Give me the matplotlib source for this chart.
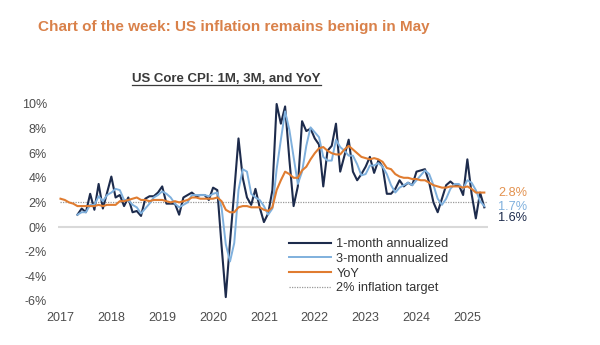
import matplotlib
matplotlib.use("Agg")
import matplotlib.pyplot as plt
import numpy as np
from matplotlib.lines import Line2D

plt.rcParams['font.family'] = ['Liberation Sans', 'DejaVu Sans']

# monthly data, Jan 2017 - May 2025 (annualized %)
one_month = [
    np.nan, np.nan, np.nan, np.nan, 1.0, 1.5, 1.2, 2.7, 1.4, 3.5, 1.5, 2.8,   # 2017
    4.1, 2.4, 2.6, 1.7, 2.4, 1.2, 1.3, 0.9, 2.3, 2.5, 2.5, 2.8,               # 2018
    3.3, 1.9, 1.9, 1.9, 1.0, 2.4, 2.6, 2.8, 2.5, 2.6, 2.6, 2.2,               # 2019
    3.2, 3.0, -1.5, -5.7, -1.2, 2.9, 7.2, 4.0, 2.4, 1.8, 3.1, 1.6,            # 2020
    0.4, 1.1, 3.0, 10.0, 8.4, 9.8, 5.5, 1.7, 3.3, 8.6, 7.8, 8.0,              # 2021
    7.2, 6.7, 3.3, 6.2, 6.6, 8.4, 4.5, 5.8, 7.1, 4.5, 3.8, 4.3,               # 2022
    4.9, 5.7, 4.4, 5.4, 4.9, 2.7, 2.7, 3.1, 3.8, 3.3, 3.6, 3.4,               # 2023
    4.5, 4.6, 4.7, 3.6, 2.0, 1.2, 2.3, 3.4, 3.7, 3.4, 3.4, 2.6,               # 2024
    5.5, 2.7, 0.7, 2.8, 1.6,                                                  # 2025
]
three_month = [
    np.nan, np.nan, np.nan, np.nan, 1.0, 1.2, 1.2, 1.8, 1.8, 2.5, 2.1, 2.6,
    2.8, 3.1, 3.0, 2.2, 2.2, 1.8, 1.6, 1.1, 1.5, 1.9, 2.4, 2.6,
    2.9, 2.7, 2.4, 1.9, 1.6, 1.8, 2.0, 2.6, 2.6, 2.6, 2.6, 2.5,
    2.7, 2.8, 1.6, -1.4, -2.8, -1.3, 3.0, 4.7, 4.5, 2.7, 2.4, 2.2,
    1.7, 1.0, 1.5, 4.7, 7.1, 9.4, 7.9, 5.7, 3.5, 4.5, 6.6, 8.1,
    7.7, 7.3, 5.7, 5.4, 5.4, 7.1, 6.5, 6.2, 5.8, 5.8, 5.1, 4.2,
    4.3, 5.0, 5.0, 5.2, 4.9, 4.3, 3.4, 2.8, 3.2, 3.4, 3.6, 3.4,
    3.8, 4.2, 4.6, 4.3, 3.4, 2.3, 1.8, 2.3, 3.1, 3.5, 3.5, 3.1,
    3.8, 3.6, 3.0, 2.1, 1.7,
]
yoy = [
    2.3, 2.2, 2.0, 1.9, 1.7, 1.7, 1.7, 1.7, 1.7, 1.8, 1.7, 1.8,
    1.8, 1.8, 2.1, 2.1, 2.2, 2.3, 2.4, 2.2, 2.2, 2.1, 2.2, 2.2,
    2.2, 2.1, 2.0, 2.1, 2.0, 2.1, 2.2, 2.4, 2.4, 2.3, 2.3, 2.3,
    2.3, 2.4, 2.1, 1.4, 1.2, 1.2, 1.6, 1.7, 1.7, 1.6, 1.6, 1.6,
    1.4, 1.3, 1.6, 3.0, 3.8, 4.5, 4.3, 4.0, 4.0, 4.6, 4.9, 5.5,
    6.0, 6.4, 6.5, 6.2, 6.0, 5.9, 5.9, 6.3, 6.6, 6.3, 6.0, 5.7,
    5.6, 5.5, 5.6, 5.5, 5.3, 4.8, 4.7, 4.3, 4.1, 4.0, 4.0, 3.9,
    3.9, 3.8, 3.8, 3.6, 3.4, 3.3, 3.2, 3.2, 3.3, 3.3, 3.3, 3.2,
    3.3, 3.1, 2.8, 2.8, 2.8,
]
target = 2.0
years = list(range(2017, 2026))
yticks = [-6, -4, -2, 0, 2, 4, 6, 8, 10]

c_1m = "#1d2b4c"
c_3m = "#7fb0dd"
c_yoy = "#e07c30"

x = 2017 + np.arange(len(yoy)) / 12

fig = plt.figure(figsize=(6, 3.45), dpi=100)
ax = fig.add_axes([58 / 600, 1 - 300.8 / 345, (487.7 - 58) / 600, (300.8 - 104) / 345])

ax.axhline(0, color="#d9d9d9", lw=1.5, zorder=1)
ax.plot(x, one_month, color=c_1m, lw=1.5, label="1-month annualized", clip_on=False, zorder=3)
ax.plot(x, three_month, color=c_3m, lw=1.4, label="3-month annualized", clip_on=False, zorder=4)
ax.plot(x, yoy, color=c_yoy, lw=1.5, label="YoY", clip_on=False, zorder=5)
ax.plot([x[0], x[-1] + 0.05], [target, target], color="#999999", lw=0.9, ls=(0, (1, 1)),
        label="2% inflation target", zorder=2)

ax.set_xlim(2016.951, 2025.40)
ax.set_ylim(-6, 10)
ax.set_xticks(years)
ax.set_xticklabels([str(y) for y in years])
ax.set_yticks(yticks)
ax.set_yticklabels([f"{v}%" for v in yticks])
ax.tick_params(length=0, labelsize=9, labelcolor="#4d4d4d")
ax.tick_params(axis="x", pad=8)
ax.tick_params(axis="y", pad=8)
for s in ax.spines.values():
    s.set_visible(False)

# end labels
ax.annotate("2.8%", xy=(x[-1], 2.75), xytext=(10, 0), textcoords="offset points",
            color="#e3924f", fontsize=9.2, va="center", ha="left")
ax.annotate("1.7%", xy=(x[-1], 1.65), xytext=(10, 0), textcoords="offset points",
            color=c_3m, fontsize=9.2, va="center", ha="left")
ax.annotate("1.6%", xy=(x[-1], 0.75), xytext=(10, 0), textcoords="offset points",
            color=c_1m, fontsize=9.2, va="center", ha="left")

leg = ax.legend(loc="upper left", bbox_to_anchor=(289 / 600, 1 - 238 / 345),
                bbox_transform=fig.transFigure, frameon=False, fontsize=9.2,
                handlelength=3.3, handletextpad=0.4, labelspacing=0.22,
                borderpad=0, borderaxespad=0)
for t in leg.get_texts():
    t.set_color("#333333")

fig.text(38 / 600, 1 - 31 / 345, "Chart of the week: US inflation remains benign in May",
         fontsize=11, fontweight="bold", color="#d9814a", va="baseline", ha="left")
sub = fig.text(226.5 / 600, 1 - 82.5 / 345, "US Core CPI: 1M, 3M, and YoY",
               fontsize=9.5, fontweight="bold", color="#3a3a3a", va="baseline", ha="center")

# underline the subtitle
renderer = fig.canvas.get_renderer()
bb = sub.get_window_extent(renderer).transformed(fig.transFigure.inverted())
uy = 1 - 84.8 / 345
fig.add_artist(Line2D([bb.x0, bb.x1], [uy, uy], transform=fig.transFigure,
                      color="#3a3a3a", lw=0.9))

fig.savefig("out.png", dpi=100)
